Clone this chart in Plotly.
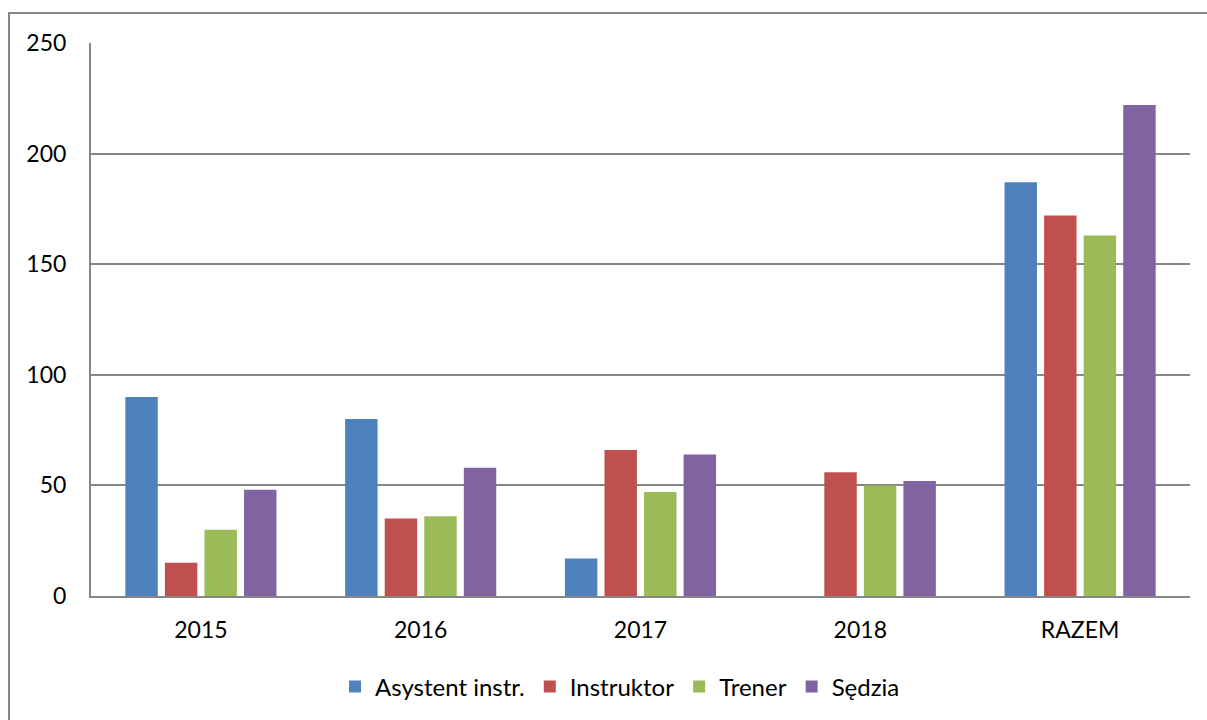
import plotly.graph_objects as go

categories = ["2015", "2016", "2017", "2018", "RAZEM"]
asystent = [90, 80, 17, None, 187]
instruktor = [15, 35, 66, 56, 172]
trener = [30, 36, 47, 50, 163]
sedzia = [48, 58, 64, 52, 222]
series_names = ["Asystent instr.", "Instruktor", "Trener", "Sędzia"]
colors = ["#4F81BD", "#C0504D", "#9BBB59", "#8064A2"]
y_ticks = [0, 50, 100, 150, 200, 250]

fig = go.Figure()
for name, vals, col in zip(series_names, [asystent, instruktor, trener, sedzia], colors):
    fig.add_trace(go.Bar(name=name, x=categories, y=vals, marker_color=col,
                         marker_line_width=0))

W, H = 1207, 720
L, R, T, B = 91, 17, 43, 123
pw, ph = W - L - R, H - T - B

def px_x(p):
    return (p - L) / pw

def px_y(p):
    return (H - B - p) / ph

fig.update_layout(
    width=W, height=H,
    margin=dict(l=L, r=R, t=T, b=B),
    paper_bgcolor="white", plot_bgcolor="white",
    barmode="group", bargap=0.28, bargroupgap=0.18,
    font=dict(family="Lato, Open Sans, sans-serif", size=23, color="black"),
    showlegend=True,
    legend=dict(orientation="h", x=px_x(620), xanchor="center", y=px_y(687), yanchor="middle",
                font=dict(size=24), itemwidth=30, traceorder="normal"),
    xaxis=dict(showgrid=False, showline=True, linecolor="#868686", linewidth=2,
               ticks="", tickfont=dict(size=23), ticklabelstandoff=12),
    yaxis=dict(range=[0, 250], tickvals=y_ticks, showgrid=True, gridcolor="#868686",
               gridwidth=1.5, showline=True, linecolor="#868686", linewidth=2,
               zeroline=False, ticks="", ticklabelstandoff=18, tickfont=dict(size=23)),
    shapes=[dict(type="rect", xref="paper", yref="paper",
                 x0=px_x(9), x1=px_x(1215), y0=px_y(730), y1=px_y(13),
                 line=dict(color="#868686", width=2), fillcolor="rgba(0,0,0,0)",
                 layer="below")],
)

fig.write_html("out.html", config={"displayModeBar": False},
               post_script="document.body.style.margin='0';document.body.style.overflow='hidden';")
